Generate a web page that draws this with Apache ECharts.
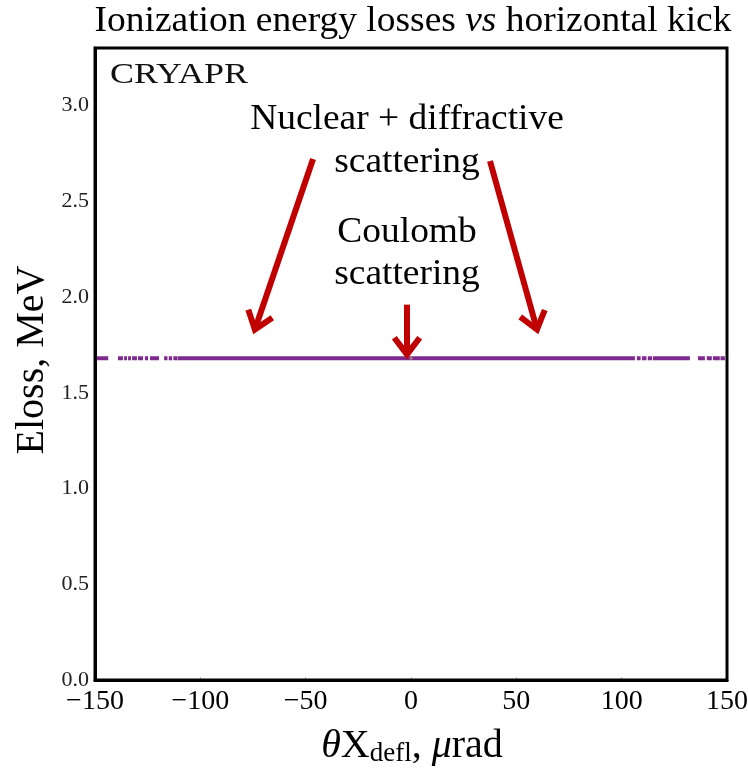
<!DOCTYPE html>
<html>
<head>
<meta charset="utf-8">
<script src="https://cdn.jsdelivr.net/npm/echarts@6/dist/echarts.min.js"></script>
<style>
  html, body { margin: 0; padding: 0; background: #fff; }
  #chart { width: 748px; height: 772px; }
</style>
</head>
<body>
<div id="chart"></div>
<script>
// Axis ranges and ticks
const xTicks = [-150, -100, -50, 0, 50, 100, 150];
const yTicks = [0.0, 0.5, 1.0, 1.5, 2.0, 2.5, 3.0];
const yMax = 3.3;

// Energy loss band: horizontal runs of events [xStart, xEnd]
const elossLevel = 1.68;
const bandSegments = [
  [-149.2, -143.7], [-139.1, -136.7], [-136.2, -134.8], [-134.3, -132.9],
  [-132.4, -130.1], [-129.6, -127.2], [-126.3, -124.8], [-123.9, -119.6],
  [-117.2, -115.6], [-115.0, -113.4], [-112.8, -110.8], [-110.6, 106.3],
  [107.2, 109.0], [109.6, 111.8], [112.4, 114.4], [114.8, 132.4],
  [136.2, 139.5], [140.4, 142.8], [143.3, 146.6], [146.9, 149.0]
];
// Central Coulomb-scattering point
const centerPoint = [[0, elossLevel]];

// Annotation arrows: [xTail, yTail, xTip, yTip]
const arrows = [
  [-46.5, 2.72, -74.1, 1.83],
  [37.5, 2.71, 59.8, 1.83],
  [-1.9, 1.96, -1.9, 1.70]
];

const chart = echarts.init(document.getElementById('chart'));
const serif = 'Liberation Serif';
const minus = v => String(v).replace('-', '\u2212');

function label(text, x, y, size, sx, extra) {
  return Object.assign({
    type: 'text', x: x, y: y, scaleX: sx, z: 101,
    style: { text: text, font: size + 'px "Liberation Serif"', fill: '#000', align: 'center', verticalAlign: 'middle' }
  }, extra || {});
}

chart.setOption({
  animation: false,
  backgroundColor: '#fff',
  grid: { left: 95, right: 21, top: 48, bottom: 92, outerBoundsMode: 'none' },
  xAxis: {
    type: 'value', min: -150, max: 150, interval: 50,
    axisLine: { show: true, onZero: false, lineStyle: { color: '#000', width: 3 } },
    axisTick: { show: true, inside: true, length: 3, lineStyle: { color: '#bbb', width: 1 } },
    axisLabel: {
      fontFamily: serif, fontSize: 28, color: '#000', margin: 8,
      formatter: v => xTicks.includes(v) ? minus(v) : ''
    },
    splitLine: { show: false }
  },
  yAxis: {
    type: 'value', min: 0, max: yMax, interval: 0.5,
    axisLine: { show: true, onZero: false, lineStyle: { color: '#000', width: 3 } },
    axisTick: { show: false },
    axisLabel: {
      fontFamily: serif, fontSize: 22, color: '#222', margin: 6, showMaxLabel: false,
      formatter: v => yTicks.some(t => Math.abs(t - v) < 1e-9) ? v.toFixed(1) : ''
    },
    splitLine: { show: false }
  },
  graphic: [
    { type: 'rect', shape: { x: 95, y: 48, width: 632, height: 632 },
      style: { fill: 'none', stroke: '#000', lineWidth: 3 }, z: 100 },
    // Title
    {
      type: 'text', x: 413, y: 22, scaleX: 1.07, z: 101,
      style: {
        text: 'Ionization energy losses {i|vs} horizontal kick',
        font: '35px "Liberation Serif"', fill: '#000', align: 'center', verticalAlign: 'middle',
        rich: { i: { fontFamily: serif, fontSize: 35, fontStyle: 'italic', fill: '#000' } }
      }
    },
    // Panel tag
    { type: 'text', x: 110, y: 75, scaleX: 1.2, z: 101,
      style: { text: 'CRYAPR', font: '30px "Liberation Serif"', fill: '#111', align: 'left', verticalAlign: 'middle' } },
    // Annotations
    label('Nuclear + diffractive', 407, 120, 35, 1.07),
    label('scattering', 407, 163, 35, 1.07),
    label('Coulomb', 407, 233, 35, 1.07),
    label('scattering', 407, 275, 35, 1.07),
    // Axis names
    {
      type: 'text', x: 412, y: 746, z: 101,
      style: {
        text: '{i|θ}X{sub|defl}, {i|μ}rad',
        font: '40px "Liberation Serif"', fill: '#000', align: 'center', verticalAlign: 'middle',
        rich: {
          i: { fontFamily: serif, fontSize: 40, fontStyle: 'italic', fill: '#000' },
          sub: { fontFamily: serif, fontSize: 27, fill: '#000', padding: [16, 0, 0, 0] }
        }
      }
    },
    {
      type: 'text', x: 32, y: 360, rotation: Math.PI / 2, z: 101,
      style: { text: 'Eloss, MeV', font: '40px "Liberation Serif"', fill: '#000', align: 'center', verticalAlign: 'middle' }
    }
  ],
  series: [
    {
      type: 'custom',
      name: 'band',
      data: bandSegments.map(s => [s[0], s[1], elossLevel]),
      renderItem: (params, api) => {
        const a = api.coord([api.value(0), api.value(2)]);
        const b = api.coord([api.value(1), api.value(2)]);
        return {
          type: 'line',
          shape: { x1: a[0], y1: a[1], x2: b[0], y2: b[1] },
          style: { stroke: '#7d2a8e', lineWidth: 4 }
        };
      },
      z: 3
    },
    {
      type: 'scatter',
      data: centerPoint,
      symbolSize: 3,
      itemStyle: { color: '#b09070' },
      z: 4
    },
    {
      type: 'custom',
      name: 'arrows',
      data: arrows,
      renderItem: (params, api) => {
        const t = api.coord([api.value(0), api.value(1)]);
        const h = api.coord([api.value(2), api.value(3)]);
        const ang = Math.atan2(h[1] - t[1], h[0] - t[0]);
        const len = 21, spread = 0.65;
        const p1 = [h[0] - len * Math.cos(ang - spread), h[1] - len * Math.sin(ang - spread)];
        const p2 = [h[0] - len * Math.cos(ang + spread), h[1] - len * Math.sin(ang + spread)];
        const st = { stroke: '#c00000', lineWidth: 6, fill: 'none', lineCap: 'butt', lineJoin: 'miter' };
        return {
          type: 'group',
          children: [
            { type: 'line', shape: { x1: t[0], y1: t[1], x2: h[0], y2: h[1] }, style: st },
            { type: 'polyline', shape: { points: [p1, h, p2] }, style: st }
          ]
        };
      },
      z: 5
    }
  ]
});
</script>
</body>
</html>
